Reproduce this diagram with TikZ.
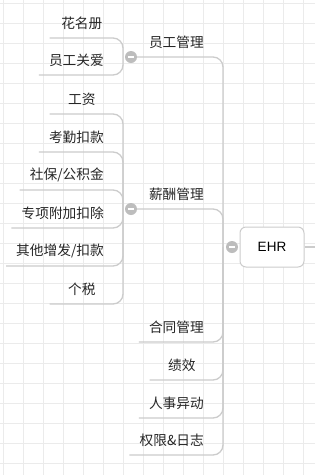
\documentclass[tikz,border=0pt]{standalone}
\usepackage{fontspec}
\setmainfont{Noto Sans CJK SC}
\newfontfamily\ehrfont{Liberation Sans}
\usetikzlibrary{backgrounds}
\definecolor{gridgray}{HTML}{EBEBEB}
\definecolor{linegray}{HTML}{CCCCCC}
\definecolor{dotgray}{HTML}{BDBDBD}

\begin{document}
\begin{tikzpicture}[
    x=1pt, y=-1pt,
    leaf/.style={anchor=south east, inner xsep=10pt, inner ysep=0pt, minimum width=64pt, minimum height=29pt, text=black!85, font=\fontsize{13.7pt}{16pt}\selectfont},
    branch/.style={draw=linegray, line width=1.3pt, rounded corners=10pt},
    fold/.style={circle, fill=dotgray, minimum size=12pt, inner sep=0pt, path picture={\draw[white, line width=1.5pt] ([xshift=-3pt]path picture bounding box.center) -- ([xshift=3pt]path picture bounding box.center);}},
    rootbox/.style={rectangle, draw=linegray, line width=1pt, fill=white, rounded corners=6pt, minimum width=64pt, minimum height=40pt, font=\ehrfont\fontsize{13.5pt}{16pt}\selectfont}
]
    \useasboundingbox (0,0) rectangle (315,475);
    \begin{scope}[on background layer]
        \fill[white] (0,0) rectangle (315,475);
        \foreach \gx in {3,23,...,303} \draw[gridgray, line width=0.8pt] (\gx,0) -- (\gx,475);
        \foreach \gy in {3,23,...,463} \draw[gridgray, line width=0.8pt] (0,\gy) -- (315,\gy);
    \end{scope}

    % Root
    \node[rootbox] (ehr) at (272,247) {EHR};
    \node[fold] (ehrfold) at (232,247) {};
    \coordinate (trunk) at (223,247);
    \coordinate (tail) at (315,247);

    % Main branches
    \node[leaf] (yggl) at (214,57) {员工管理};
    \node[fold] (ygfold) at (131,57) {};
    \node[leaf] (xcgl) at (214,209) {薪酬管理};
    \node[fold] (xcfold) at (131,209) {};
    \node[leaf] (htgl) at (214,342) {合同管理};
    \node[leaf] (jx) at (214,380) {绩效};
    \node[leaf] (rsyd) at (214,418) {人事异动};
    \node[leaf] (qxrz) at (214,455) {权限\&日志};

    % Employee management
    \coordinate (ygroot) at (123,57);
    \node[leaf] (hmc) at (114,38) {花名册};
    \node[leaf] (ygga) at (114,75) {员工关爱};

    % Payroll
    \coordinate (xcroot) at (123,209);
    \node[leaf] (gz) at (114,114) {工资};
    \node[leaf] (kqkk) at (114,152) {考勤扣款};
    \node[leaf] (sbgjj) at (114,190) {社保/公积金};
    \node[leaf] (zxfj) at (114,228) {专项附加扣除};
    \node[leaf] (qtzf) at (114,266) {其他增发/扣款};
    \node[leaf] (gs) at (114,304) {个税};

    % Connectors
    \begin{scope}[on background layer]
        \draw[branch] (ehr) -- (tail);
        \draw[branch] (ygfold) -| (trunk);
        \draw[branch] (xcfold) -| (trunk);
        \foreach \n in {htgl,jx,rsyd,qxrz} \draw[branch] (\n.south west) -| (trunk);
        \foreach \n in {hmc,ygga} \draw[branch] (\n.south west) -| (ygroot);
        \foreach \n in {gz,kqkk,sbgjj,zxfj,qtzf,gs} \draw[branch] (\n.south west) -| (xcroot);
    \end{scope}
\end{tikzpicture}
\end{document}
